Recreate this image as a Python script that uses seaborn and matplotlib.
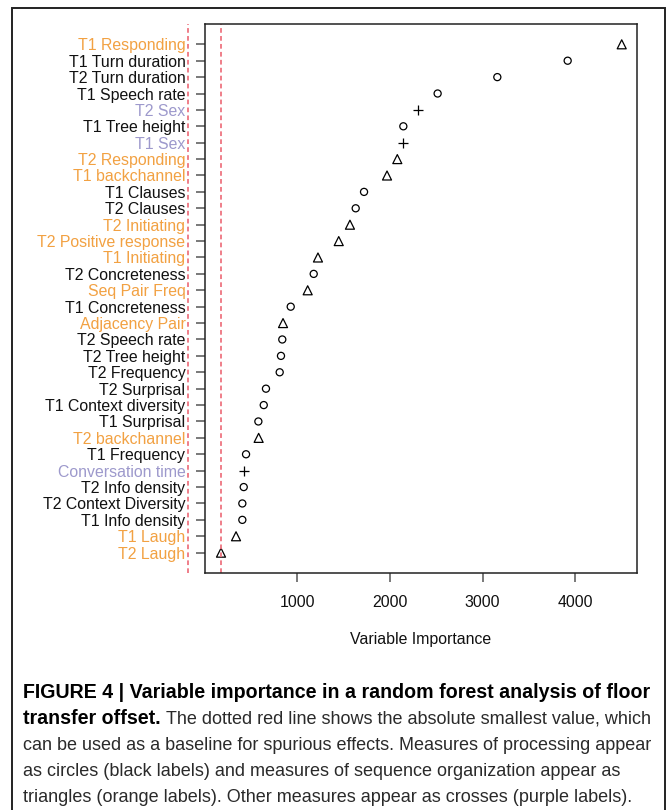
import numpy as np
import pandas as pd
import matplotlib
matplotlib.use("Agg")
import matplotlib.pyplot as plt
import seaborn as sns
from matplotlib.patches import Rectangle

# values (top to bottom)
labels = ["T1 Responding", "T1 Turn duration", "T2 Turn duration", "T1 Speech rate",
          "T2 Sex", "T1 Tree height", "T1 Sex", "T2 Responding", "T1 backchannel",
          "T1 Clauses", "T2 Clauses", "T2 Initiating", "T2 Positive response",
          "T1 Initiating", "T2 Concreteness", "Seq Pair Freq", "T1 Concreteness",
          "Adjacency Pair", "T2 Speech rate", "T2 Tree height", "T2 Frequency",
          "T2 Surprisal", "T1 Context diversity", "T1 Surprisal", "T2 backchannel",
          "T1 Frequency", "Conversation time", "T2 Info density",
          "T2 Context Diversity", "T1 Info density", "T1 Laugh", "T2 Laugh"]
importance = [4500, 3917, 3158, 2514, 2299, 2144, 2137, 2079, 1968, 1720, 1630,
              1568, 1447, 1223, 1177, 1112, 929, 846, 838, 824, 810, 662, 638,
              580, 583, 447, 428, 422, 407, 407, 339, 177]
kinds = ["seq", "proc", "proc", "proc", "other", "proc", "other", "seq", "seq",
         "proc", "proc", "seq", "seq", "seq", "proc", "seq", "proc", "seq", "proc",
         "proc", "proc", "proc", "proc", "proc", "seq", "proc", "other", "proc",
         "proc", "proc", "seq", "seq"]
xticks = [1000, 2000, 3000, 4000]

kind_marker = {"proc": "o", "seq": "^", "other": "+"}
kind_size = {"proc": 26, "seq": 42, "other": 60}
kind_color = {"proc": "#111111", "seq": "#f2a142", "other": "#9d99cc"}
red = "#ee7480"

caption_bold1 = "FIGURE 4 | Variable importance in a random forest analysis of floor"
caption_bold2 = "transfer offset."
caption_rest2 = "The dotted red line shows the absolute smallest value, which"
caption_lines = ["can be used as a baseline for spurious effects. Measures of processing appear",
                 "as circles (black labels) and measures of sequence organization appear as",
                 "triangles (orange labels). Other measures appear as crosses (purple labels)."]

sns.set_theme(style="white")
plt.rcParams['font.family'] = ['Liberation Sans', 'DejaVu Sans']

df = pd.DataFrame({"label": labels, "importance": importance, "kind": kinds})
df["pos"] = np.arange(len(df))[::-1] + 1
baseline = df["importance"].min()

fig = plt.figure(figsize=(6.68, 8.10), dpi=100)
ax = fig.add_axes([0.3063, 0.2926, 0.6473, 0.6778])

for k, sub in df.groupby("kind"):
    if kind_marker[k] == "+":
        sns.scatterplot(data=sub, x="importance", y="pos", marker="+",
                        s=kind_size[k], color="black", linewidth=0.9, ax=ax)
    else:
        sns.scatterplot(data=sub, x="importance", y="pos", marker=kind_marker[k],
                        s=kind_size[k], facecolors="none", edgecolor="black",
                        linewidth=0.9, ax=ax)

# baseline lines (inside plot, and its mirror in the label area)
ax.axvline(baseline, color=red, ls=(0, (2.6, 1.8)), lw=1.3)
ax.axvline(-baseline, color=red, ls=(0, (2.6, 1.8)), lw=1.3, clip_on=False)

ax.set_xlim(0, 4665)
ax.set_ylim(-0.24, len(df) + 1.24)
ax.set_xticks(xticks)
ax.set_xticklabels([str(t) for t in xticks], fontsize=11.4)
ax.set_yticks(df["pos"])
ax.set_yticklabels(df["label"], fontsize=11.4)
for tl, k in zip(ax.get_yticklabels(), df["kind"]):
    tl.set_color(kind_color[k])
ax.tick_params(axis="both", length=6.8, width=1.1, color="#555555", left=True, bottom=True)
ax.tick_params(axis="y", pad=7)
ax.tick_params(axis="x", pad=9, labelcolor="#111111")
ax.set_xlabel("Variable Importance", fontsize=11.4, labelpad=16, color="#111111")
ax.set_ylabel("")
for s in ax.spines.values():
    s.set_visible(True)
    s.set_color("#222222")
    s.set_linewidth(1.1)

# outer frame
fig.patches.append(Rectangle((12 / 668, -0.01), (665 - 12) / 668, 1.01 - 8 / 810,
                             transform=fig.transFigure, fill=False,
                             edgecolor="#222222", lw=1.4))

# caption
fig.canvas.draw()
renderer = fig.canvas.get_renderer()


def fit_size(text, weight, target_px, base=12.0):
    t = fig.text(0, 0, text, fontsize=base, fontweight=weight)
    w = t.get_window_extent(renderer).width
    t.remove()
    return base * target_px / w


bold_size = fit_size(caption_bold1, "bold", 623)
reg_size = fit_size(caption_lines[0], "normal", 630)

x0 = 23 / 668
ys = [692, 719, 745, 771, 798]
fig.text(x0, 1 - ys[0] / 810, caption_bold1, fontsize=bold_size, fontweight="bold",
         color="black", va="center")
tb = fig.text(x0, 1 - ys[1] / 810, caption_bold2, fontsize=bold_size, fontweight="bold",
              color="black", va="center")
wb = tb.get_window_extent(renderer).width
fig.text(x0 + (wb + 5) / 668, 1 - ys[1] / 810, caption_rest2, fontsize=reg_size,
         color="#2a2a2a", va="center")
for line, y in zip(caption_lines, ys[2:]):
    fig.text(x0, 1 - y / 810, line, fontsize=reg_size, color="#2a2a2a", va="center")

fig.savefig("out.png", dpi=100)
